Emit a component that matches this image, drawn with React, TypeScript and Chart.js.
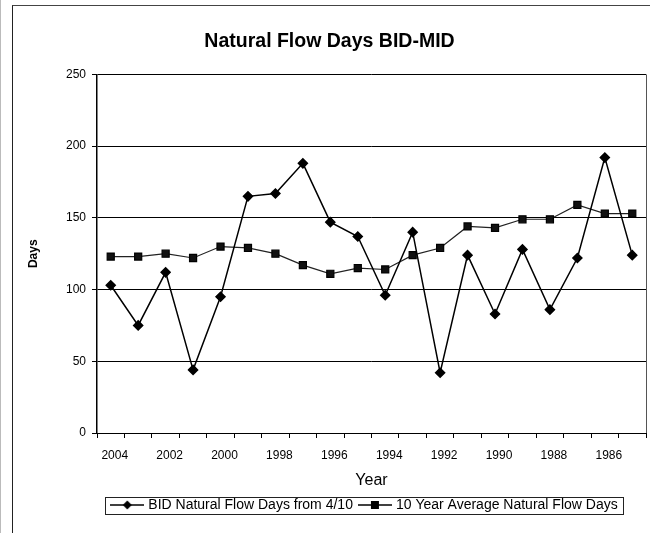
import React, { useEffect, useRef } from "react";
import { Chart, registerables } from "chart.js";

Chart.register(...registerables);

const years = [
  "2004", "2003", "2002", "2001", "2000", "1999", "1998", "1997", "1996", "1995",
  "1994", "1993", "1992", "1991", "1990", "1989", "1988", "1987", "1986", "1985",
];
const bidFlowDays = [103, 75, 112, 44, 95, 165, 167, 188, 147, 137, 96, 140, 42, 124, 83, 128, 86, 122, 192, 124];
const tenYearAvg = [123, 123, 125, 122, 130, 129, 125, 117, 111, 115, 114, 124, 129, 144, 143, 149, 149, 159, 153, 153];
const yTicks = [0, 50, 100, 150, 200, 250];

const titleText = "Natural Flow Days BID-MID";
const seriesNames = ["BID Natural Flow Days from 4/10", "10 Year Average Natural Flow Days"];
const yTitle = "Days";
const xTitle = "Year";

const FONT = "Arial, 'Liberation Sans', sans-serif";

function legendSymbol(kind: "diamond" | "square"): HTMLCanvasElement {
  const c = document.createElement("canvas");
  c.width = 34;
  c.height = 12;
  const ctx = c.getContext("2d")!;
  ctx.strokeStyle = "#000";
  ctx.lineWidth = 1.5;
  ctx.beginPath();
  ctx.moveTo(0, 6);
  ctx.lineTo(34, 6);
  ctx.stroke();
  ctx.fillStyle = "#000";
  ctx.beginPath();
  if (kind === "diamond") {
    ctx.moveTo(17, 1.5);
    ctx.lineTo(21.5, 6);
    ctx.lineTo(17, 10.5);
    ctx.lineTo(12.5, 6);
    ctx.closePath();
  } else {
    ctx.rect(13, 2, 8, 8);
  }
  ctx.fill();
  return c;
}

const framePlugin = {
  id: "framePlugin",
  afterLayout(chart: any) {
    const lg = chart.legend;
    if (lg) {
      lg.left -= 6;
      lg.right -= 6;
    }
  },
  afterDraw(chart: any) {
    const ctx = chart.ctx;
    const a = chart.chartArea;
    ctx.save();
    ctx.strokeStyle = "#555";
    ctx.lineWidth = 1;
    ctx.beginPath();
    ctx.moveTo(Math.round(a.right) + 0.5, a.top);
    ctx.lineTo(Math.round(a.right) + 0.5, a.bottom);
    ctx.stroke();
    const boxes = chart.legend && chart.legend.legendHitBoxes;
    if (boxes && boxes.length) {
      let l = Infinity, r = -Infinity, t = Infinity, b = -Infinity;
      boxes.forEach((h: any) => {
        l = Math.min(l, h.left);
        r = Math.max(r, h.left + h.width);
        t = Math.min(t, h.top);
        b = Math.max(b, h.top + h.height);
      });
      ctx.strokeStyle = "#222";
      ctx.strokeRect(Math.round(l - 8) + 0.5, Math.round(t - 1.5) + 0.5, Math.round(r - l + 14), Math.round(b - t + 3));
    }
    ctx.restore();
  },
};

export default function App() {
  const ref = useRef<HTMLCanvasElement | null>(null);

  useEffect(() => {
    if (!ref.current) return;
    const symbols = [legendSymbol("diamond"), legendSymbol("square")];
    const chart = new Chart(ref.current, {
      type: "line",
      data: {
        labels: years,
        datasets: [
          {
            label: seriesNames[0],
            data: bidFlowDays,
            borderColor: "#000",
            backgroundColor: "#000",
            borderWidth: 1.5,
            pointStyle: "rectRot",
            pointRadius: 4.5,
            pointBackgroundColor: "#000",
            pointBorderColor: "#000",
            tension: 0,
          },
          {
            label: seriesNames[1],
            data: tenYearAvg,
            borderColor: "#222",
            backgroundColor: "#000",
            borderWidth: 1.2,
            pointStyle: "rect",
            pointRadius: 5,
            pointBackgroundColor: "#111",
            pointBorderColor: "#000",
            tension: 0,
          },
        ],
      },
      options: {
        animation: false,
        responsive: false,
        layout: { padding: { left: 0, right: 15, top: 0, bottom: 12 } },
        plugins: {
          title: {
            display: true,
            text: titleText,
            color: "#000",
            font: { family: FONT, size: 19.5, weight: "bold" },
            padding: { top: 24, bottom: 21 },
          },
          legend: {
            position: "bottom",
            fullSize: false,
            labels: {
              usePointStyle: true,
              pointStyleWidth: 28,
              boxHeight: 12,
              padding: 8,
              color: "#000",
              font: { family: FONT, size: 14 },
              generateLabels: (chart: any) =>
                chart.data.datasets.map((ds: any, i: number) => ({
                  text: ds.label,
                  pointStyle: symbols[i],
                  fillStyle: "#000",
                  strokeStyle: "#000",
                  lineWidth: 0,
                  hidden: false,
                  datasetIndex: i,
                  fontColor: "#000",
                })),
            },
          },
          tooltip: { enabled: false },
        },
        scales: {
          x: {
            type: "category",
            offset: true,
            afterFit: (s: any) => {
              s.height = 57;
            },
            grid: {
              offset: true,
              drawOnChartArea: false,
              drawTicks: true,
              tickLength: 5,
              color: "#000",
            },
            border: { color: "#000", width: 1 },
            ticks: {
              autoSkip: false,
              maxRotation: 0,
              padding: 10,
              labelOffset: 4,
              color: "#000",
              font: { family: FONT, size: 12 },
              callback: (_v: any, i: number) => (i % 2 === 0 ? years[i] : ""),
            },
            title: {
              display: true,
              text: xTitle,
              color: "#000",
              font: { family: FONT, size: 16 },
              padding: { top: 4, bottom: 0 },
            },
          },
          y: {
            min: 0,
            max: 250,
            afterFit: (s: any) => {
              s.width = 84;
            },
            afterBuildTicks: (s: any) => {
              s.ticks = yTicks.map((v) => ({ value: v }));
            },
            grid: {
              color: "#000",
              lineWidth: 1,
              tickLength: 5,
            },
            border: { color: "#000", width: 1.5 },
            ticks: {
              padding: 6,
              color: "#000",
              font: { family: FONT, size: 12 },
            },
            title: {
              display: true,
              text: yTitle,
              color: "#000",
              font: { family: FONT, size: 12, weight: "bold" },
              padding: { top: 13, bottom: 0 },
            },
          },
        },
      },
      plugins: [framePlugin],
    } as any);
    return () => chart.destroy();
  }, []);

  return (
    <div style={{ position: "absolute", left: 0, top: 0, width: 650, height: 533, overflow: "hidden", background: "#fff" }}>
      <div style={{ position: "absolute", left: 0, top: 0, width: 1, height: 533, background: "#bbb" }} />
      <div
        style={{
          position: "absolute",
          left: 12,
          top: 5,
          width: 648,
          height: 528,
          borderLeft: "1px solid #222",
          borderTop: "1px solid #444",
        }}
      >
        <canvas ref={ref} width={648} height={528} style={{ display: "block", width: 648, height: 528 }} />
      </div>
    </div>
  );
}
